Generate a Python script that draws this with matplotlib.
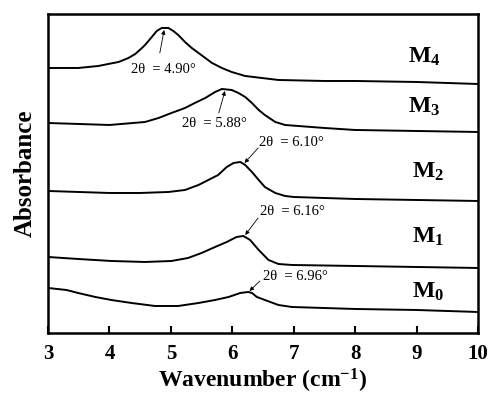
import matplotlib
matplotlib.use('Agg')
import matplotlib.pyplot as plt

# ============================================================
# Data
# ============================================================

m4_x = [3.0, 3.49, 3.82, 3.98, 4.15, 4.31, 4.42, 4.53, 4.58, 4.69, 4.77, 4.85, 4.96, 5.04, 5.12,
        5.23, 5.34, 5.45, 5.56, 5.67, 5.83, 5.99, 6.21, 6.48, 6.75, 7.5, 8.0, 9.0, 10.0]
m4_y = [2.65, 2.65, 2.67, 2.69, 2.71, 2.75, 2.79, 2.85, 2.88, 2.96, 3.02, 3.05, 3.05, 3.02, 2.98,
        2.91, 2.85, 2.80, 2.75, 2.70, 2.65, 2.61, 2.57, 2.55, 2.53, 2.52, 2.52, 2.51, 2.49]

m3_x = [3.0, 3.5, 4.0, 4.58, 4.80, 5.01, 5.23, 5.39, 5.56, 5.72, 5.83, 5.99, 6.10, 6.21, 6.32,
        6.43, 6.53, 6.70, 6.86, 7.5, 8.0, 9.0, 10.0]
m3_y = [2.10, 2.09, 2.08, 2.11, 2.15, 2.20, 2.25, 2.30, 2.35, 2.41, 2.44, 2.43, 2.40, 2.36, 2.30,
        2.23, 2.18, 2.11, 2.08, 2.05, 2.03, 2.02, 2.01]

m2_x = [3.0, 3.5, 4.0, 4.5, 4.96, 5.23, 5.45, 5.61, 5.77, 5.91, 6.02, 6.13, 6.21, 6.32, 6.43,
        6.53, 6.70, 6.86, 7.0, 8.0, 9.0, 10.0]
m2_y = [1.42, 1.41, 1.40, 1.40, 1.41, 1.43, 1.48, 1.53, 1.58, 1.66, 1.70, 1.71, 1.68, 1.61, 1.53,
        1.46, 1.40, 1.37, 1.36, 1.34, 1.33, 1.32]

m1_x = [3.0, 3.49, 4.03, 4.58, 5.01, 5.28, 5.50, 5.72, 5.91, 6.07, 6.18, 6.29, 6.43, 6.59, 6.75,
        6.97, 8.0, 9.0, 10.0]
m1_y = [0.76, 0.74, 0.72, 0.71, 0.72, 0.75, 0.80, 0.86, 0.91, 0.96, 0.97, 0.93, 0.83, 0.73, 0.69,
        0.68, 0.67, 0.66, 0.65]

m0_x = [3.0, 3.30, 3.49, 3.77, 4.03, 4.36, 4.74, 5.12, 5.45, 5.72, 5.94, 6.13, 6.26, 6.32, 6.40,
        6.53, 6.75, 6.97, 8.0, 9.0, 10.0]
m0_y = [0.45, 0.43, 0.40, 0.36, 0.33, 0.30, 0.27, 0.27, 0.30, 0.33, 0.36, 0.40, 0.41, 0.40, 0.36,
        0.33, 0.28, 0.26, 0.24, 0.23, 0.21]

labels = ['M_0', 'M_1', 'M_2', 'M_3', 'M_4']
peak_text = ['6.96', '6.16', '6.10', '5.88', '4.90']

# label / annotation placement (data coords)
label_pos = [(8.93, 0.41), (8.93, 0.96), (8.93, 1.61), (8.86, 2.26), (8.86, 2.76)]
text_pos = [(6.50, 0.56), (6.45, 1.21), (6.44, 1.90), (5.18, 2.09), (4.35, 2.63)]
arrow_tail = [(6.45, 0.52), (6.42, 1.15), (6.42, 1.85), (5.78, 2.20), (4.82, 2.80)]
arrow_tip = [(6.28, 0.42), (6.21, 0.98), (6.20, 1.70), (5.88, 2.42), (4.89, 3.03)]

# ============================================================
# Plot
# ============================================================

plt.rcParams.update({
    'font.family': 'serif',
    'font.serif': ['Liberation Serif', 'DejaVu Serif'],
    'mathtext.fontset': 'custom',
    'mathtext.rm': 'Liberation Serif',
    'mathtext.bf': 'Liberation Serif:bold',
    'mathtext.it': 'Liberation Serif:italic',
})

fig = plt.figure(figsize=(4.91, 3.95), dpi=100)
ax = fig.add_axes([0.0978, 0.157, 0.8757, 0.8076])

series = [(m0_x, m0_y), (m1_x, m1_y), (m2_x, m2_y), (m3_x, m3_y), (m4_x, m4_y)]
for x, y in series:
    ax.plot(x, y, color='black', lw=1.4)

for i in range(5):
    ax.text(label_pos[i][0], label_pos[i][1], r'$\mathbf{%s}$' % labels[i],
            fontsize=17, ha='left', va='center')
    ax.text(text_pos[i][0], text_pos[i][1], '2θ  = %s°' % peak_text[i],
            fontsize=10.5, ha='left', va='center')
    ax.annotate('', xy=arrow_tip[i], xytext=arrow_tail[i],
                arrowprops=dict(arrowstyle='-|>', lw=0.6, color='black',
                                mutation_scale=6, shrinkA=0, shrinkB=0))

ax.set_xlim(3, 10)
ax.set_ylim(0, 3.19)
ax.set_xticks(range(3, 11))
ax.set_yticks([])
ax.tick_params(axis='x', direction='in', length=5, width=1.5, labelsize=15, pad=8)
for lab in ax.get_xticklabels():
    lab.set_fontweight('bold')
for s in ax.spines.values():
    s.set_linewidth(1.8)

ax.set_xlabel(r'Wavenumber (cm$^{\mathbf{-1}}$)', fontsize=17, fontweight='bold', labelpad=2)
ax.set_ylabel('Absorbance', fontsize=18, fontweight='bold', labelpad=8)

fig.savefig('out.png', dpi=100)
